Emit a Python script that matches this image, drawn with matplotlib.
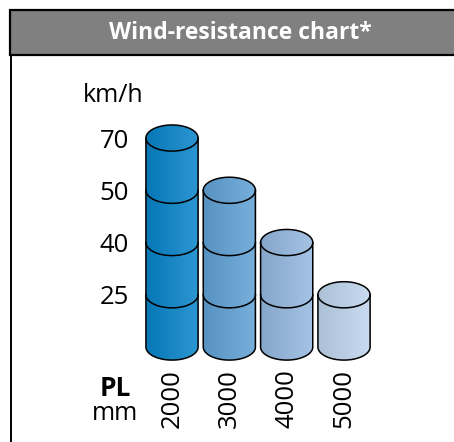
import numpy as np
import matplotlib
matplotlib.use("Agg")
import matplotlib.pyplot as plt
from matplotlib.path import Path
from matplotlib.patches import PathPatch, Rectangle
from matplotlib.colors import to_rgb

# data
lengths = ["2000", "3000", "4000", "5000"]   # PL in mm
speeds = [70, 50, 40, 25]                    # max wind speed, km/h
levels = [25, 40, 50, 70]                    # y tick labels (one stacked drum each)
colors = ["#0784ca", "#60a2d6", "#95b9e1", "#bfd5ee"]

plt.rcParams['font.family'] = ['Open Sans', 'DejaVu Sans']

fig = plt.figure(figsize=(4.54, 4.42), dpi=100)

# header bar + left frame line (figure coordinates)
W, H = 454.0, 442.0
hdr = Rectangle((10 / W, 1 - 55 / H), 1.2, 45 / H, transform=fig.transFigure,
                facecolor="#808080", edgecolor="black", linewidth=1.6, clip_on=False)
fig.patches.append(hdr)
fig.lines.append(plt.Line2D([10.5 / W, 10.5 / W], [0, 1 - 55 / H], transform=fig.transFigure,
                            color="black", linewidth=1.4))
fig.text(240 / W, 1 - 33 / H, "Wind-resistance chart*", color="white", fontsize=16.5,
         fontweight="bold", ha="center", va="center")

ax = fig.add_axes([0.3031, 0.1676, 0.5304, 0.5674])
bw = 0.91     # drum width in category units
eh = 0.25     # half height of the ellipses in level units


def arc(xc, y, t0, t1, n=60):
    t = np.linspace(t0, t1, n)
    return np.column_stack([xc + bw / 2 * np.cos(t), y + eh * np.sin(t)])


for i, (sp, col) in enumerate(zip(speeds, colors)):
    n = levels.index(sp) + 1
    # silhouette: bottom front arc, right side, top back arc, left side
    outline = np.vstack([arc(i, 0, np.pi, 2 * np.pi), arc(i, n, 0, np.pi)])
    outline = np.vstack([outline, outline[:1]])
    path = Path(outline, closed=True)
    clip = PathPatch(path, facecolor="none", edgecolor="none")
    ax.add_patch(clip)

    base = np.array(to_rgb(col))
    left = base * 0.9
    right = base + (1 - base) * 0.15
    g = np.linspace(0, 1, 64)[None, :, None]
    grad = left[None, None, :] * (1 - g) + right[None, None, :] * g
    grad[:, -2:, :] = grad[:, -2:, :] * 0.9
    im = ax.imshow(grad, extent=(i - bw / 2, i + bw / 2, -eh, n + eh),
                   aspect="auto", origin="lower", zorder=1, interpolation="bilinear")
    im.set_clip_path(clip)

    ax.add_patch(PathPatch(path, facecolor="none", edgecolor="black", linewidth=1.1, zorder=3))
    # top ellipse front edge and the seams between drums
    for k in range(1, n + 1):
        pts = arc(i, k, np.pi, 2 * np.pi)
        ax.plot(pts[:, 0], pts[:, 1], color="black", linewidth=1.1, zorder=3)

ax.set_xlim(-0.6, 3.6)
ax.set_ylim(-0.4, 4.4)
ax.set_xticks(range(len(lengths)))
ax.set_xticklabels(lengths, rotation=90, fontsize=18.5)
ax.set_yticks(range(1, len(levels) + 1))
ax.set_yticklabels([str(v) for v in levels], fontsize=18.5)
ax.tick_params(axis="y", length=0, pad=6)
ax.tick_params(axis="x", length=0, pad=1)
for s in ax.spines.values():
    s.set_visible(False)
ax.set_facecolor("none")

fig.text(113 / W, 1 - 95 / H, "km/h", fontsize=18, ha="center", va="center")
fig.text(115 / W, 1 - 388 / H, "PL", fontsize=19, fontweight="bold", ha="center", va="center")
fig.text(115 / W, 1 - 414 / H, "mm", fontsize=18, ha="center", va="center")

fig.savefig("out.png", dpi=100)
